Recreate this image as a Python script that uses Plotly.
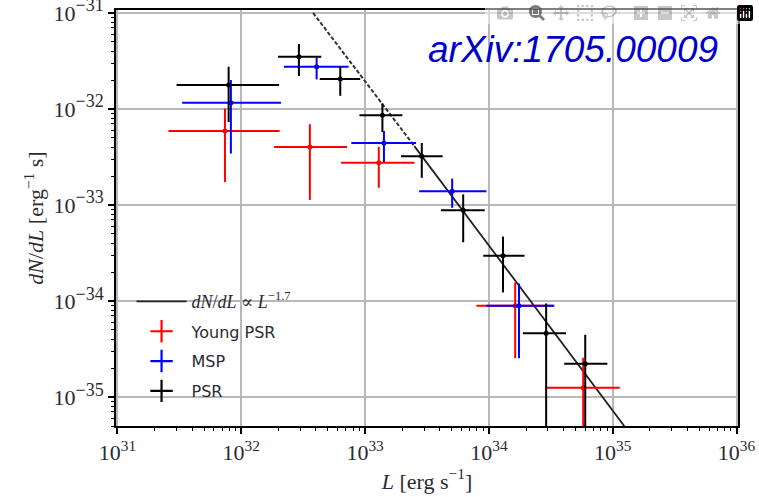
import plotly.graph_objects as go

# ---------------- data ----------------
# PSR (black)
psr_L    = [7.9e31, 2.92e32, 6.3e32, 1.38e33, 2.87e33, 6.2e33, 1.30e34, 2.90e34, 6.0e34]
psr_L_lo = [3.0e31, 1.98e32, 4.3e32, 9.0e32, 1.95e33, 4.1e33, 9.0e33, 1.88e34, 4.06e34]
psr_L_hi = [2.02e32, 4.43e32, 9.14e32, 2.0e33, 4.23e33, 9.25e33, 1.94e34, 4.2e34, 9.06e34]
psr_y    = [1.77e-32, 3.50e-32, 2.05e-32, 8.6e-33, 3.21e-33, 8.8e-34, 2.97e-34, 4.62e-35, 2.23e-35]
psr_y_lo = [7.3e-33, 2.20e-32, 1.37e-32, 5.75e-33, 1.92e-33, 4.09e-34, 1.23e-34, 0.0, 0.0]
psr_y_hi = [2.75e-32, 4.74e-32, 2.75e-32, 1.14e-32, 4.42e-33, 1.29e-33, 4.69e-34, 9.42e-35, 4.45e-35]

# MSP (blue)
msp_L    = [8.24e31, 4.06e32, 1.42e33, 5.05e33, 1.75e34]
msp_L_lo = [3.33e31, 2.21e32, 7.74e32, 2.73e33, 9.55e33]
msp_L_hi = [2.09e32, 7.36e32, 2.58e33, 9.55e33, 3.38e34]
msp_y    = [1.16e-32, 2.75e-32, 4.42e-33, 1.39e-33, 8.91e-35]
msp_y_lo = [3.43e-33, 2.03e-32, 2.8e-33, 9.35e-34, 2.54e-35]
msp_y_hi = [2.0e-32, 3.44e-32, 5.9e-33, 1.88e-33, 1.52e-34]

# Young PSR (red)
ypsr_L    = [7.38e31, 3.58e32, 1.29e33, 1.63e34, 5.78e34]
ypsr_L_lo = [2.58e31, 1.84e32, 6.4e32, 7.93e33, 2.9e34]
ypsr_L_hi = [2.04e32, 7.14e32, 2.5e33, 3.31e34, 1.14e35]
ypsr_y    = [5.9e-33, 4.02e-33, 2.76e-33, 8.91e-35, 1.25e-35]
ypsr_y_lo = [1.73e-33, 1.13e-33, 1.51e-33, 2.54e-35, 0.0]
ypsr_y_hi = [1.01e-32, 6.93e-33, 4.02e-33, 1.56e-34, 2.57e-35]

# power law dN/dL ∝ L^-1.7 (dashed outside fit range, solid inside)
law_dashed_L = [3.8e32, 2.5e33]
law_dashed_y = [1.0e-31, 4.1e-33]
law_solid_L  = [2.5e33, 1.24e35]
law_solid_y  = [4.1e-33, 5.0e-36]

# axis ticks
x_tickvals = [1e31, 1e32, 1e33, 1e34, 1e35, 1e36]
x_exponents = ["31", "32", "33", "34", "35", "36"]
y_tickvals = [1e-35, 1e-34, 1e-33, 1e-32, 1e-31]
y_exponents = ["−35", "−34", "−33", "−32", "−31"]

series = [
    ("Young PSR", "#ff0000", ypsr_L, ypsr_L_lo, ypsr_L_hi, ypsr_y, ypsr_y_lo, ypsr_y_hi),
    ("MSP", "#0000ff", msp_L, msp_L_lo, msp_L_hi, msp_y, msp_y_lo, msp_y_hi),
    ("PSR", "#000000", psr_L, psr_L_lo, psr_L_hi, psr_y, psr_y_lo, psr_y_hi),
]

fig = go.Figure()

# power law line
fig.add_trace(go.Scatter(x=law_dashed_L, y=law_dashed_y, mode="lines",
                         line=dict(color="#333333", width=2, dash="4px,2px"),
                         showlegend=False, hoverinfo="skip"))
fig.add_trace(go.Scatter(
    x=law_solid_L, y=law_solid_y, mode="lines",
    line=dict(color="#222222", width=1.8),
    name='<span style="font-family:Liberation Serif, DejaVu Serif, serif;font-size:18px">'
         '<i>dN</i>/<i>dL</i> ∝ <i>L</i><sup>−1.7</sup></span>',
    legendrank=1, legendgroup="g1"))

for rank, (name, col, L, Llo, Lhi, y, ylo, yhi) in enumerate(series, start=2):
    fig.add_trace(go.Scatter(
        x=L, y=y, mode="markers",
        marker=dict(color=col, size=5),
        error_x=dict(type="data", symmetric=False,
                     array=[h - c for h, c in zip(Lhi, L)],
                     arrayminus=[c - l for c, l in zip(L, Llo)],
                     color=col, thickness=2, width=0),
        error_y=dict(type="data", symmetric=False,
                     array=[h - c for h, c in zip(yhi, y)],
                     arrayminus=[c - l for c, l in zip(y, ylo)],
                     color=col, thickness=2, width=0),
        showlegend=False, name=name))
    # legend proxy
    fig.add_trace(go.Scatter(
        x=[None], y=[None], mode="markers", name=name, legendrank=rank,
        legendgroup="g%d" % rank,
        marker=dict(symbol="cross-thin", size=16, color=col,
                    line=dict(color=col, width=2.2))))

tick_font = dict(family="Liberation Serif, DejaVu Serif, serif", size=22, color="#2a2a33")
title_font = dict(family="Liberation Serif, DejaVu Serif, serif", size=22, color="#2a2a33")

common = dict(type="log", tickmode="array", ticklabeloverflow="allow",
              showline=True, linecolor="black", linewidth=1.8, mirror=True,
              ticks="outside", ticklen=6, tickwidth=1.5, tickcolor="black",
              minor=dict(tickmode="linear", dtick="D1", ticks="outside", ticklen=3.5,
                         tickwidth=1.2, tickcolor="black", showgrid=False),
              showgrid=True, gridcolor="#b8b8b8", gridwidth=1.5,
              zeroline=False, tickfont=tick_font, automargin=False)

fig.update_xaxes(range=[30.988, 36.012], tickvals=x_tickvals,
                 ticktext=["10<sup>%s</sup>" % e for e in x_exponents],
                 title=dict(text="<i>L</i> [erg s<sup>−1</sup>]", font=title_font, standoff=2),
                 **common)
fig.update_yaxes(range=[-35.301, -30.97], tickvals=y_tickvals,
                 ticktext=['10<sup><span style="font-size:18px">%s</span></sup>' % e
                           for e in y_exponents],
                 title=dict(text="<i>dN</i>/<i>dL</i> [erg<sup>−1</sup> s]", font=title_font,
                            standoff=4),
                 **common)

fig.add_annotation(text="<i>arXiv:1705.00009</i>", xref="paper", yref="paper",
                   x=0.735, y=0.906, showarrow=False, xanchor="center", yanchor="middle",
                   font=dict(family="Liberation Sans, Arial, sans-serif", size=37,
                             color="#0000cc"))

fig.update_layout(
    width=759, height=497,
    margin=dict(l=116, r=21, t=10, b=71),
    paper_bgcolor="white", plot_bgcolor="white",
    showlegend=True,
    legend=dict(x=0.025, y=0.34, xanchor="left", yanchor="top",
                bgcolor="rgba(0,0,0,0)", borderwidth=0, itemwidth=50,
                tracegroupgap=6,
                font=dict(family="DejaVu Sans, sans-serif", size=16, color="#2a2a33")),
)

# remove the default page margin so the figure fills the window exactly
fig.write_html("out.html",
               post_script="document.body.style.margin='0';document.body.style.overflow='hidden';")
